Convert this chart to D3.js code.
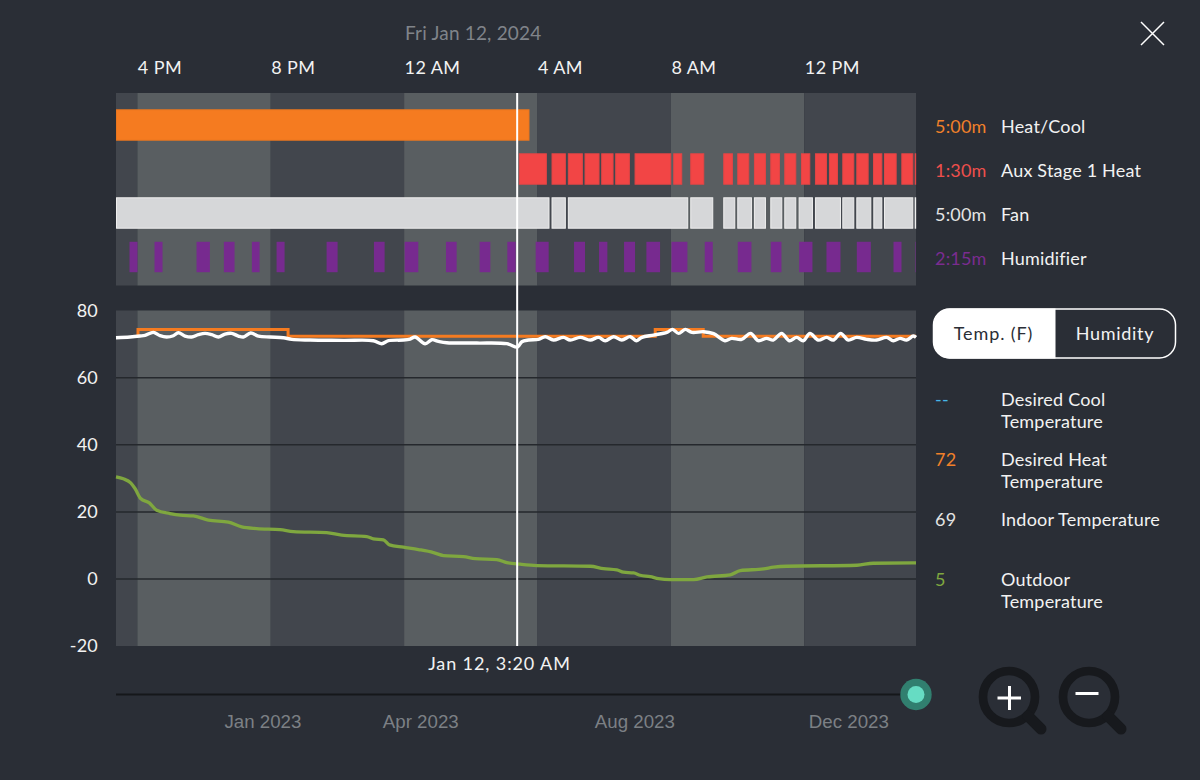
<!DOCTYPE html>
<html>
<head>
<meta charset="utf-8">
<script src="https://cdn.jsdelivr.net/npm/d3@7"></script>
<style>
  html, body { margin: 0; background: #2a2e36; }
  svg { display: block; }
  text { font-family: Lato, sans-serif; font-size: 18px; letter-spacing: 0.2px; }
  .domain, .tick line { display: none; }
</style>
</head>
<body>
<svg id="chart" width="1200" height="780"></svg>
<script>
// all times are hours from midnight on Jan 12
const startHour = -8.64;
const endHour = 15.35;
const cursorHour = 3.39;

const hourTicks = [-8, -4, 0, 4, 8, 12];
const hourLabels = ["4 PM", "8 PM", "12 AM", "4 AM", "8 AM", "12 PM"];
const bandEdges = [startHour, -8, -4, 0, 4, 8, 12, endHour];

const rowNames = ["Heat/Cool", "Aux Stage 1 Heat", "Fan", "Humidifier"];
const rowTimes = ["5:00m", "1:30m", "5:00m", "2:15m"];

const heatCoolRuns = [[startHour, 3.76]];
const auxRuns = [[3.44, 4.28], [4.42, 4.85], [4.91, 5.36], [5.41, 5.86], [5.91, 6.28], [6.33, 6.77],
  [6.91, 8.01], [8.07, 8.34], [8.58, 9.00], [9.57, 9.86], [9.99, 10.35], [10.49, 10.85],
  [10.98, 11.27], [11.40, 11.76], [11.90, 12.18], [12.32, 12.68], [12.74, 13.01], [13.14, 13.50],
  [13.56, 13.93], [14.06, 14.34], [14.39, 14.77], [14.91, 15.27], [15.31, 15.35]];
const fanRuns = [[startHour, 4.36], [4.42, 4.85], [4.91, 8.52], [8.58, 9.27], [9.57, 9.93], [9.99, 10.43],
  [10.49, 10.85], [10.98, 11.34], [11.40, 11.76], [11.83, 12.26], [12.32, 13.10], [13.14, 13.50],
  [13.56, 14.01], [14.07, 14.34], [14.39, 15.27], [15.31, 15.35]];
const humidifierRuns = [[-8.25, -7.98], [-7.50, -7.23], [-6.24, -5.81], [-5.42, -5.07], [-4.58, -4.32],
  [-3.84, -3.57], [-2.34, -1.98], [-0.92, -0.57], [0, 0.44], [1.24, 1.59], [2.25, 2.60], [3.08, 3.36],
  [3.93, 4.35], [5.08, 5.44], [5.83, 6.11], [6.58, 6.94], [7.25, 7.69], [8.00, 8.51], [9.00, 9.27],
  [9.99, 10.43], [10.98, 11.33], [11.83, 12.26], [12.65, 13.10], [13.56, 14.01], [14.66, 14.93], [15.31, 15.35]];

const desiredHeat = [[-7.98, 72.4], [-7.98, 74.4], [-3.48, 72.4], [7.53, 74.4], [8.97, 72.4], [endHour, 72.4]];

const indoorTemp = [[-8.64, 71.95], [-8.22, 72.15], [-7.92, 72.44], [-7.77, 72.64], [-7.52, 73.54], [-7.32, 72.54],
  [-7.12, 72.15], [-6.92, 72.54], [-6.77, 73.44], [-6.57, 72.44], [-6.37, 72.15], [-6.17, 72.84], [-5.97, 73.24],
  [-5.77, 72.84], [-5.57, 72.15], [-5.37, 73.04], [-5.17, 73.24], [-4.97, 72.44], [-4.82, 72.15], [-4.60, 73.34],
  [-4.37, 72.44], [-4.02, 72.15], [-3.62, 71.95], [-3.37, 71.45], [-2.82, 71.25], [-1.82, 71.15], [-0.92, 71.05],
  [-0.67, 70.16], [-0.47, 71.05], [-0.02, 71.25], [0.18, 71.55], [0.33, 72.15], [0.63, 70.16], [0.83, 71.35],
  [1.03, 70.85], [1.28, 70.45], [2.18, 70.35], [3.08, 70.16], [3.40, 69.16], [3.53, 70.75], [3.73, 71.25],
  [4.03, 71.45], [4.23, 72.25], [4.48, 71.25], [4.78, 72.05], [4.98, 71.25], [5.28, 72.05], [5.58, 71.25],
  [5.83, 72.05], [6.03, 71.05], [6.28, 72.25], [6.53, 71.25], [6.78, 72.25], [6.96, 71.05], [7.13, 72.05],
  [7.48, 72.74], [7.88, 73.54], [8.05, 74.43], [8.23, 73.24], [8.43, 74.43], [8.63, 73.54], [8.98, 73.74],
  [9.28, 73.14], [9.62, 71.05], [9.82, 71.75], [10.12, 71.45], [10.39, 73.24], [10.62, 71.05], [10.87, 71.75],
  [11.07, 71.25], [11.32, 73.24], [11.55, 71.05], [11.77, 72.05], [11.97, 71.05], [12.17, 73.24], [12.42, 71.25],
  [12.67, 72.05], [12.87, 71.25], [13.09, 73.24], [13.32, 71.25], [13.57, 72.05], [13.87, 71.45], [14.17, 71.25],
  [14.47, 72.05], [14.67, 71.05], [14.87, 71.75], [15.07, 71.25], [15.27, 72.44], [15.35, 72.05]];

const outdoorTemp = [[-8.64, 30.46], [-8.42, 29.86], [-8.20, 28.66], [-8.07, 26.97], [-7.90, 23.99], [-7.64, 22.69],
  [-7.42, 20.50], [-7.02, 19.51], [-6.72, 19.01], [-6.32, 18.81], [-5.87, 17.52], [-5.27, 16.92], [-4.87, 15.53],
  [-4.42, 15.03], [-3.72, 14.73], [-3.32, 14.14], [-2.32, 13.84], [-1.87, 13.04], [-1.12, 12.64], [-0.92, 11.95],
  [-0.62, 11.65], [-0.44, 10.16], [-0.02, 9.46], [0.43, 8.76], [0.88, 7.87], [1.18, 6.97], [1.78, 6.67],
  [2.13, 6.08], [2.78, 5.78], [3.08, 4.88], [3.48, 4.39], [3.98, 3.99], [5.58, 3.79], [5.98, 3.09], [6.38, 2.69],
  [6.58, 2.0], [6.88, 1.8], [7.08, 1.1], [7.38, 0.7], [7.63, 0.1], [7.98, -0.19], [8.68, -0.19], [9.08, 0.6],
  [9.78, 1.2], [10.08, 2.5], [10.78, 2.99], [11.08, 3.49], [11.48, 3.79], [13.58, 4.09], [14.07, 4.68], [15.35, 4.78]];

const tempTicks = [80, 60, 40, 20, 0, -20];
const gridTemps = [60, 40, 20, 0];

const sliderStart = new Date(2022, 9, 9);
const sliderEnd = new Date(2024, 0, 8);
const sliderTicks = [new Date(2023, 0, 1), new Date(2023, 3, 1), new Date(2023, 7, 1), new Date(2023, 11, 1)];

const svg = d3.select("#chart");

const x = d3.scaleLinear().domain([startHour, endHour]).range([116, 916]);
const rowY = d3.scaleBand().domain(rowNames).range([103, 279]).paddingInner(0.286).paddingOuter(0.143);
const y = d3.scaleLinear().domain([-20, 80]).range([646, 310.7]);
const sliderX = d3.scaleTime().domain([sliderStart, sliderEnd]).range([116, 916]);

// title and top hour labels
svg.append("text").attr("x", 405).attr("y", 40).attr("fill", "#80848a")
    .style("font-size", "19px").style("letter-spacing", "0.18px").text("Fri Jan 12, 2024");

const topAxis = svg.append("g")
    .attr("transform", "translate(0,74)")
    .call(d3.axisTop(x).tickValues(hourTicks).tickSize(0).tickPadding(0)
      .tickFormat((d, i) => hourLabels[i]));
topAxis.selectAll("text").attr("text-anchor", "start").attr("fill", "#f2f2f2").style("font-size", "18px")
    .style("font-family", "Lato, sans-serif").style("letter-spacing", "0.4px");

// alternating shift bands behind both panels
const panels = [[93, 285.5], [310.5, 646]];
panels.forEach(p => {
  svg.append("g").selectAll("rect")
      .data(d3.pairs(bandEdges))
      .enter().append("rect")
      .attr("x", d => x(d[0]))
      .attr("width", d => x(d[1]) - x(d[0]))
      .attr("y", p[0])
      .attr("height", p[1] - p[0])
      .attr("fill", (d, i) => i % 2 ? "#595e61" : "#42464d");
});

// equipment rows, outlines stay inside each run so the gaps remain
function drawRuns(name, runs, fill, stroke) {
  svg.append("g").selectAll("rect")
      .data(runs)
      .enter().append("rect")
      .attr("x", d => x(d[0]) + 0.5)
      .attr("width", d => Math.max(x(d[1]) - x(d[0]) - 1, 0.5))
      .attr("y", rowY(name) + 0.5)
      .attr("height", rowY.bandwidth() - 1)
      .attr("fill", fill)
      .attr("stroke", stroke)
      .attr("stroke-width", 1);
}
drawRuns("Heat/Cool", heatCoolRuns, "#f57b20", "#e8761f");
drawRuns("Aux Stage 1 Heat", auxRuns, "#f24545", "#e24545");
drawRuns("Fan", fanRuns, "#d6d7d9", "#eeeeee");
drawRuns("Humidifier", humidifierRuns, "#772a8f", "none");

// temperature panel
svg.append("g").selectAll("line")
    .data(gridTemps)
    .enter().append("line")
    .attr("x1", 116).attr("x2", 916)
    .attr("y1", d => y(d)).attr("y2", d => y(d))
    .attr("stroke", "#25282d")
    .attr("stroke-width", 1.5);

const leftAxis = svg.append("g")
    .attr("transform", "translate(98,-0.4)")
    .call(d3.axisLeft(y).tickValues(tempTicks).tickSize(0).tickPadding(0).tickFormat(d => String(d)));
leftAxis.selectAll("text").attr("fill", "#f2f2f2").style("font-size", "18px").style("font-family", "Lato, sans-serif");

const stepLine = d3.line().x(d => x(d[0])).y(d => y(d[1])).curve(d3.curveStepAfter);
const smoothLine = d3.line().x(d => x(d[0])).y(d => y(d[1])).curve(d3.curveMonotoneX);
const wavyLine = d3.line().x(d => x(d[0])).y(d => y(d[1])).curve(d3.curveCatmullRom.alpha(0.5));

svg.append("path").datum(desiredHeat).attr("d", stepLine)
    .attr("fill", "none").attr("stroke", "#f57b20").attr("stroke-width", 3);
svg.append("path").datum(outdoorTemp).attr("d", smoothLine)
    .attr("fill", "none").attr("stroke", "#7fa73f").attr("stroke-width", 3.3);
svg.append("path").datum(indoorTemp).attr("d", wavyLine)
    .attr("fill", "none").attr("stroke", "#ffffff").attr("stroke-width", 3.4);

// cursor
svg.append("line")
    .attr("x1", x(cursorHour)).attr("x2", x(cursorHour))
    .attr("y1", 93).attr("y2", 646)
    .attr("stroke", "#ffffff").attr("stroke-width", 2);
svg.append("text").attr("x", 499.5).attr("y", 670).attr("text-anchor", "middle")
    .attr("fill", "#f2f2f2").style("letter-spacing", "0.9px").text("Jan 12, 3:20 AM");

// legend, equipment rows
const rowColors = ["#f0802a", "#ee4f4c", "#e4e4e4", "#7a2c90"];
rowNames.forEach((name, i) => {
  const cy = rowY(name) + rowY.bandwidth() / 2 + 2;
  svg.append("text").attr("x", 935).attr("y", cy).attr("dy", "0.35em").attr("fill", rowColors[i]).text(rowTimes[i]);
  svg.append("text").attr("x", 1001).attr("y", cy).attr("dy", "0.35em").attr("fill", "#f2f2f2").text(name);
});

// toggle
svg.append("rect").attr("x", 933.5).attr("y", 309).attr("width", 242).attr("height", 49).attr("rx", 16)
    .attr("fill", "#2a2e36").attr("stroke", "#ffffff").attr("stroke-width", 1.5);
svg.append("path").attr("d", "M1055.5,308.5H950a16.5,16.5 0 0 0 -16.5,16.5V342a16.5,16.5 0 0 0 16.5,16.5H1055.5Z")
    .attr("fill", "#ffffff");
svg.append("text").attr("x", 993.5).attr("y", 340).attr("text-anchor", "middle").attr("fill", "#2a2e36")
    .style("letter-spacing", "0.9px").text("Temp. (F)");
svg.append("text").attr("x", 1115).attr("y", 340).attr("text-anchor", "middle").attr("fill", "#f2f2f2")
    .style("letter-spacing", "0.7px").text("Humidity");

// legend, temperature series
const seriesValues = ["--", "72", "69", "5"];
const seriesColors = ["#46b6e8", "#f0802a", "#e4e4e4", "#7fa73f"];
const seriesLabels = [["Desired Cool", "Temperature"], ["Desired Heat", "Temperature"], ["Indoor Temperature"], ["Outdoor", "Temperature"]];
const seriesRows = [406, 466, 526, 586];
seriesValues.forEach((v, i) => {
  svg.append("text").attr("x", 935).attr("y", seriesRows[i]).attr("fill", seriesColors[i]).text(v);
  seriesLabels[i].forEach((t, j) => {
    svg.append("text").attr("x", 1001).attr("y", seriesRows[i] + j * 22).attr("fill", "#f2f2f2").text(t);
  });
});

// date slider
svg.append("line").attr("x1", 116).attr("x2", 916).attr("y1", 694.5).attr("y2", 694.5)
    .attr("stroke", "#15171a").attr("stroke-width", 2);
const sliderAxis = svg.append("g")
    .attr("transform", "translate(-1,728)")
    .call(d3.axisBottom(sliderX).tickValues(sliderTicks).tickSize(0).tickPadding(0)
      .tickFormat(d3.timeFormat("%b %Y")));
sliderAxis.selectAll("text").attr("dy", 0).attr("fill", "#7c8085").style("font-size", "18.7px")
    .style("font-family", "Liberation Sans, sans-serif").style("letter-spacing", "0");
svg.append("circle").attr("cx", 916).attr("cy", 694.5).attr("r", 15.7).attr("fill", "#317f6f");
svg.append("circle").attr("cx", 916).attr("cy", 694.5).attr("r", 8.5).attr("fill", "#66dcc3");

// close button
svg.append("path").attr("d", "M1141,22L1164,45M1164,22L1141,45")
    .attr("stroke", "#ffffff").attr("stroke-width", 1.5).attr("fill", "none");

// zoom buttons
function magnifier(cx, cy, sign) {
  const g = svg.append("g").attr("fill", "none").attr("stroke-linecap", "round");
  g.append("circle").attr("cx", cx).attr("cy", cy).attr("r", 26)
      .attr("stroke", "#17191d").attr("stroke-width", 8.7);
  g.append("line").attr("x1", cx + 19).attr("y1", cy + 19).attr("x2", cx + 32).attr("y2", cy + 32)
      .attr("stroke", "#17191d").attr("stroke-width", 11);
  g.append("path").attr("d", sign).attr("stroke", "#ffffff").attr("stroke-width", 3).attr("stroke-linecap", "butt");
}
magnifier(1009, 697, "M997.5,698H1021M1009.5,686V710");
magnifier(1089, 697, "M1075.5,693.5H1098.5");
</script>
</body>
</html>
